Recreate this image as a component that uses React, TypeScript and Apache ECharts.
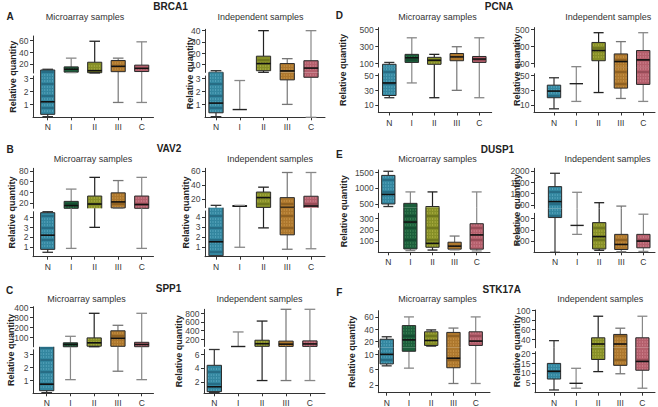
import { useEffect, useRef } from 'react';
import * as echarts from 'echarts';

// ---------------- DATA ----------------
const categories = ['N', 'I', 'II', 'III', 'C'];
const geneNames = ['BRCA1', 'VAV2', 'SPP1', 'PCNA', 'DUSP1', 'STK17A'];
const panelLetters = ['A', 'B', 'C', 'D', 'E', 'F'];
const subtitleTexts = ['Microarray samples', 'Independent samples'];
const yAxisTitle = 'Relative quantity';

// each box: [min, q1, median, q3, max]
const brca1Micro = [
  [0.05, 0.23, 1.2, 9.7, 10.9],
  [5.2, 6, 11, 15, 30],
  [4.6, 5, 8.5, 23, 59],
  [1.15, 6.8, 16, 26, 30],
  [1.15, 7, 12.5, 18, 58],
];
const brca1Indep = [
  [0.05, 0.35, 1.1, 3.3, 4.7],
  [0.6, 0.6, 0.6, 0.6, 2.85],
  [3.3, 4.7, 11, 17.5, 40],
  [1, 2.9, 4.5, 11, 15.3],
  [0, 3.1, 7, 13.5, 40],
];
const vav2Micro = [
  [0.45, 0.75, 2.2, 4.5, 4.6],
  [0.85, 10, 15, 23, 46],
  [3.0, 9, 18, 33, 68],
  [10.2, 10.8, 22, 39, 62],
  [0.85, 10, 17, 33, 68],
];
const vav2Indep = [
  [0.05, 0.1, 1.5, 5, 11],
  [0.95, 9.8, 10, 10.2, 11],
  [2.9, 8, 22, 30, 37],
  [0.75, 2.2, 8, 22, 58],
  [0.8, 7, 10, 24, 58],
];
const spp1Micro = [
  [0.05, 0.2, 0.7, 3.4, 3.45],
  [1.05, 5.5, 28, 45, 110],
  [5.5, 11, 45, 94, 340],
  [1.7, 10, 90, 165, 220],
  [1.05, 6, 28, 50, 340],
];
const spp1Indep = [
  [0.5, 0.6, 1.3, 4.4, 6.68],
  [36, 36, 36, 36, 370],
  [2.2, 40, 100, 180, 620],
  [2.2, 38, 90, 160, 890],
  [2.2, 38, 95, 165, 890],
];
const pcnaMicro = [
  [20, 23, 40, 88, 110],
  [40, 110, 165, 205, 400],
  [20, 88, 135, 170, 205],
  [30, 130, 175, 215, 295],
  [20, 110, 150, 180, 400],
];
const pcnaIndep = [
  [5, 20, 29, 37, 47],
  [15, 39, 39, 39, 60],
  [27, 130, 250, 345, 460],
  [19, 33, 120, 210, 355],
  [15, 38, 140, 250, 460],
];
const dusp1Micro = [
  [420, 500, 800, 1400, 1530],
  [15, 30, 270, 520, 880],
  [20, 45, 80, 420, 880],
  [22, 28, 55, 90, 145],
  [12, 28, 155, 255, 880],
];
const dusp1Indep = [
  [0, 310, 650, 1310, 1900],
  [160, 240, 240, 240, 1060],
  [18, 30, 140, 265, 600],
  [5, 25, 70, 160, 450],
  [8, 40, 100, 160, 340],
];
const stk17aMicro = [
  [7, 7.5, 10, 24, 28],
  [6.4, 10.8, 23, 46, 60],
  [13, 14, 22, 36, 39],
  [2.4, 6.5, 9, 35, 42],
  [2.4, 14, 21, 36, 60],
];
const stk17aIndep = [
  [1.4, 7, 11, 15, 37],
  [2.3, 4.8, 4.8, 4.8, 12.5],
  [10.8, 17, 30, 43, 88],
  [9.7, 14, 30, 50, 63],
  [2.3, 11.5, 16, 43, 88],
];

// tick labels: [upper segment, lower segment]
const brca1MicroTicks = [[20, 40, 60], [1, 2, 3]];
const brca1IndepTicks = [[10, 20, 30, 40], [1, 2, 3]];
const vav2MicroTicks = [[20, 40, 60, 80], [1, 2, 3, 4]];
const vav2IndepTicks = [[20, 40, 60], [1, 2, 3, 4]];
const spp1MicroTicks = [[100, 200, 300, 400], [1, 2, 3]];
const spp1IndepTicks = [[200, 400, 600, 800], [2, 4, 6]];
const pcnaMicroTicks = [[100, 300, 500], [10, 30, 50]];
const pcnaIndepTicks = [[100, 300, 500], [10, 30, 50]];
const dusp1MicroTicks = [[500, 1000, 1500], [100, 200, 300]];
const dusp1IndepTicks = [[500, 1000, 1500, 2000], [100, 200, 300]];
const stk17aMicroTicks = [[20, 40, 60], [2, 6, 10]];
const stk17aIndepTicks = [[40, 60, 80, 100], [5, 10, 15, 20]];

// ---------------- LAYOUT / STYLE ----------------
const FONT = "'Liberation Sans', Arial, sans-serif";
const boxFill = ['#33869f', '#1c5e3b', '#868f27', '#ad772d', '#b45f6c'];
const boxDot = ['#8fd4ea', '#68b87a', '#e2dc6c', '#f0bf70', '#f2b0bc'];
const boxStripe = ['#0f3449', '#08281a', '#3e440c', '#4d300c', '#5c222c'];
const whiskerColor = ['#333', '#888', '#222', '#777', '#888'];

type Sec = [number, number, number, number]; // pxTop, pxBottom, min, max
interface Layout {
  data: number[][];
  ticks: number[][];
  axisX: number;
  n0: number;
  step: number;
  right: number;
  upper: Sec;
  lower: Sec;
  labelX: number;
}

const layouts: Layout[] = [
  { data: brca1Micro, ticks: brca1MicroTicks, axisX: 33, n0: 47.7, step: 23.5, right: 153.5, upper: [36, 73, 4.5, 68], lower: [76, 117.3, 0, 3.2], labelX: 13 },
  { data: brca1Indep, ticks: brca1IndepTicks, axisX: 205, n0: 216, step: 23.75, right: 325, upper: [29.3, 72.4, 3.2, 41.2], lower: [76, 117.3, 0, 3.2], labelX: 190 },
  { data: vav2Micro, ticks: vav2MicroTicks, axisX: 33, n0: 47.7, step: 23.5, right: 153.5, upper: [168.3, 208.3, 10, 85], lower: [211.7, 256.7, 0, 4.6], labelX: 12 },
  { data: vav2Indep, ticks: vav2IndepTicks, axisX: 205, n0: 216, step: 23.75, right: 325, upper: [168.3, 207.7, 7.6, 64], lower: [211, 256.7, 0, 4.6], labelX: 186 },
  { data: spp1Micro, ticks: spp1MicroTicks, axisX: 33, n0: 46.7, step: 23.75, right: 153.5, upper: [306.7, 346.8, 5, 406], lower: [349.8, 393.3, 0, 3.35], labelX: 11 },
  { data: spp1Indep, ticks: spp1IndepTicks, axisX: 204, n0: 214.3, step: 23.9, right: 325, upper: [309.3, 346.5, 36, 890], lower: [349.5, 393.3, 0.36, 6.68], labelX: 179 },
  { data: pcnaMicro, ticks: pcnaMicroTicks, axisX: 378.3, n0: 389.3, step: 22.5, right: 491.7, upper: [27.6, 67.1, 55, 520], lower: [73.7, 112.5, 0, 52.5], labelX: 343 },
  { data: pcnaIndep, ticks: pcnaIndepTicks, axisX: 534, n0: 554, step: 22.3, right: 655, upper: [27.6, 67.1, 55, 520], lower: [73.7, 112.5, 0, 52.5], labelX: 517 },
  { data: dusp1Micro, ticks: dusp1MicroTicks, axisX: 378.3, n0: 388.3, step: 22.1, right: 490, upper: [170, 207.7, 383, 1570], lower: [213.3, 252.3, 0, 348], labelX: 344 },
  { data: dusp1Indep, ticks: dusp1IndepTicks, axisX: 534, n0: 555, step: 22.1, right: 655, upper: [168.3, 208.4, 348, 2120], lower: [213.3, 252.3, 0, 348], labelX: 517 },
  { data: stk17aMicro, ticks: stk17aMicroTicks, axisX: 378.3, n0: 386.7, step: 22.25, right: 490, upper: [310.7, 347.3, 11, 70], lower: [350.5, 392.7, 0, 11], labelX: 352 },
  { data: stk17aIndep, ticks: stk17aIndepTicks, axisX: 535, n0: 554, step: 22.1, right: 655, upper: [310, 347.7, 22.3, 101], lower: [351.7, 392.7, 0, 21], labelX: 517 },
];

const genePos = [[170.5, 6.5], [169, 148.3], [168.5, 288.3], [499, 6.8], [497.5, 149], [501.7, 289.3]];
const letterPos = [[10, 16], [10, 149.3], [9.5, 290], [339.3, 15], [339.3, 154], [339.3, 292.3]];
const subPos = [
  [[85, 17.3], [260.5, 17.3]],
  [[93, 159.3], [270, 159.3]],
  [[86.5, 299.3], [259.5, 299.3]],
  [[437.5, 17.3], [608.3, 17.3]],
  [[437.5, 159.3], [607.5, 159.3]],
  [[437.5, 298.7], [600.3, 298.7]],
];

function makeRenderer(lo: number, hi: number, ext: number) {
  return (_params: any, api: any) => {
    const i = api.value(0);
    const mn = api.value(1), q1 = api.value(2), md = api.value(3), q3 = api.value(4), mx = api.value(5);
    const unit = api.size([1, 0])[0];
    const cx = api.coord([i, lo])[0];
    const bw = unit * 0.6;
    const cw = unit * 0.45;
    const Y = (v: number) => api.coord([i, Math.min(hi, Math.max(lo, v))])[1];
    const inR = (v: number) => v >= lo && v <= hi;
    const wc = whiskerColor[i];
    const kids: any[] = [];
    const vseg = (a: number, b: number) => {
      const a2 = Math.max(a, lo), b2 = Math.min(b, hi);
      if (b2 <= a2) return;
      const y1 = Y(a2);
      const y2 = Y(b2) - (b > hi ? ext : 0);
      kids.push({ type: 'line', shape: { x1: cx, y1, x2: cx, y2 }, style: { stroke: wc, lineWidth: 1.2 } });
    };
    vseg(mn, q1);
    vseg(q3, mx);
    const x0 = cx - bw / 2, x1 = cx + bw / 2;
    if (q3 > q1) {
      const a2 = Math.max(q1, lo), b2 = Math.min(q3, hi);
      if (b2 > a2) {
        const yb = Y(a2);
        const yt = Y(b2) - (q3 > hi ? ext : 0);
        kids.push({ type: 'rect', shape: { x: x0, y: yt, width: bw, height: yb - yt }, style: { fill: boxFill[i] } });
        const start = Math.ceil((yt + 1) / 3) * 3;
        for (let y = start; y < yb - 0.8; y += 3) {
          const stripe = Math.round(y / 3) % 4 === 0;
          kids.push({
            type: 'line',
            shape: { x1: x0 + 1, y1: y, x2: x1 - 1, y2: y },
            style: stripe
              ? { stroke: boxStripe[i], lineWidth: 1, opacity: 0.6 }
              : { stroke: boxDot[i], lineWidth: 1, lineDash: [1, 1.6], opacity: 0.7 },
          });
        }
        const bc = '#2a2a2a';
        kids.push({ type: 'line', shape: { x1: x0, y1: yt, x2: x0, y2: yb }, style: { stroke: bc, lineWidth: 1 } });
        kids.push({ type: 'line', shape: { x1: x1, y1: yt, x2: x1, y2: yb }, style: { stroke: bc, lineWidth: 1 } });
        if (q3 <= hi) kids.push({ type: 'line', shape: { x1: x0, y1: yt, x2: x1, y2: yt }, style: { stroke: bc, lineWidth: 1 } });
        if (q1 >= lo) kids.push({ type: 'line', shape: { x1: x0, y1: yb, x2: x1, y2: yb }, style: { stroke: bc, lineWidth: 1 } });
      }
      if (inR(md)) {
        const ym = Y(md);
        kids.push({ type: 'line', shape: { x1: x0, y1: ym, x2: x1, y2: ym }, style: { stroke: '#111', lineWidth: 1.6 } });
      }
    } else if (inR(q1)) {
      const yq = Y(q1);
      kids.push({ type: 'line', shape: { x1: x0, y1: yq, x2: x1, y2: yq }, style: { stroke: '#222', lineWidth: 1.4 } });
    }
    if (inR(mn) && mn < q1) {
      const y = Y(mn);
      kids.push({ type: 'line', shape: { x1: cx - cw / 2, y1: y, x2: cx + cw / 2, y2: y }, style: { stroke: wc, lineWidth: 1.3 } });
    }
    if (inR(mx) && mx > q3) {
      const y = Y(mx);
      kids.push({ type: 'line', shape: { x1: cx - cw / 2, y1: y, x2: cx + cw / 2, y2: y }, style: { stroke: wc, lineWidth: 1.3 } });
    }
    return { type: 'group', children: kids };
  };
}

function buildOption() {
  const grids: any[] = [];
  const xAxes: any[] = [];
  const yAxes: any[] = [];
  const series: any[] = [];
  const axisColor = '#333';
  layouts.forEach((p) => {
    const xmin = (p.axisX - p.n0) / p.step;
    const xmax = (p.right - p.n0) / p.step;
    const secs = [
      { s: p.upper, ticks: p.ticks[0], showX: false, ext: 0 },
      { s: p.lower, ticks: p.ticks[1], showX: true, ext: p.lower[0] - p.upper[1] },
    ];
    secs.forEach((sec) => {
      const gi = grids.length;
      grids.push({
        left: p.axisX,
        top: sec.s[0],
        width: p.right - p.axisX,
        height: sec.s[1] - sec.s[0],
        containLabel: false,
        outerBoundsMode: 'none',
      });
      xAxes.push({
        type: 'value',
        gridIndex: gi,
        min: xmin,
        max: xmax,
        show: sec.showX,
        axisLine: { show: true, onZero: false, lineStyle: { color: axisColor, width: 1 } },
        axisTick: { show: true, length: 3, customValues: [0, 1, 2, 3, 4], lineStyle: { color: axisColor } },
        axisLabel: { show: false },
        splitLine: { show: false },
      });
      yAxes.push({
        type: 'value',
        gridIndex: gi,
        min: sec.s[2],
        max: sec.s[3],
        axisLine: { show: true, onZero: false, lineStyle: { color: axisColor, width: 1 } },
        axisTick: { show: true, length: 3, customValues: sec.ticks, lineStyle: { color: axisColor } },
        axisLabel: { show: false },
        splitLine: { show: false },
      });
      series.push({
        type: 'custom',
        xAxisIndex: gi,
        yAxisIndex: gi,
        clip: false,
        silent: true,
        renderItem: makeRenderer(sec.s[2], sec.s[3], sec.ext),
        encode: { x: 0, y: [1, 2, 3, 4, 5] },
        data: p.data.map((b, i) => [i, ...b]),
      });
    });
  });

  return {
    animation: false,
    backgroundColor: '#ffffff',
    grid: grids,
    xAxis: xAxes,
    yAxis: yAxes,
    series,
  };
}

// texts: titles + axis labels placed through the chart's own scales
function buildGraphics(chart: any) {
  const graphics: any[] = [];
  const txt = (x: number, y: number, text: string, font: string, fill: string, align = 'center', rotation = 0) => ({
    type: 'text',
    x,
    y,
    rotation,
    silent: true,
    style: { text, font, fill, textAlign: align, textVerticalAlign: 'middle' },
  });
  geneNames.forEach((g, k) => {
    graphics.push(txt(genePos[k][0], genePos[k][1], g, `bold 10px ${FONT}`, '#222222'));
    graphics.push(txt(letterPos[k][0], letterPos[k][1], panelLetters[k], `bold 10px ${FONT}`, '#222222'));
    subPos[k].forEach((pos, j) => graphics.push(txt(pos[0], pos[1], subtitleTexts[j], `9px ${FONT}`, '#333333')));
  });
  layouts.forEach((p, k) => {
    graphics.push(txt(p.labelX, (p.upper[0] + p.lower[1]) / 2, yAxisTitle, `bold 9px ${FONT}`, '#222222', 'center', Math.PI / 2));
    const upperGi = k * 2;
    const lowerGi = k * 2 + 1;
    // category labels
    categories.forEach((c, i) => {
      const pt = chart.convertToPixel({ xAxisIndex: lowerGi, yAxisIndex: lowerGi }, [i, p.lower[2]]);
      graphics.push(txt(pt[0], pt[1] + 10, c, `8.5px ${FONT}`, '#333333'));
    });
    // y tick labels
    [upperGi, lowerGi].forEach((gi, s) => {
      const sec = s === 0 ? p.upper : p.lower;
      p.ticks[s].forEach((v) => {
        const pt = chart.convertToPixel({ xAxisIndex: gi, yAxisIndex: gi }, [(p.axisX - p.n0) / p.step, v]);
        graphics.push(txt(pt[0] - 4.5, pt[1] + 0.3, String(v), `8.5px ${FONT}`, '#444444', 'right'));
      });
      void sec;
    });
  });
  return graphics;
}

export default function App() {
  const ref = useRef<HTMLDivElement>(null);
  useEffect(() => {
    if (!ref.current) return;
    const chart = echarts.init(ref.current, undefined, { renderer: 'svg' });
    chart.setOption(buildOption() as any);
    chart.setOption({ graphic: buildGraphics(chart) } as any);
    return () => chart.dispose();
  }, []);
  return <div ref={ref} style={{ position: 'absolute', left: 0, top: 0, width: 658, height: 407 }} />;
}
